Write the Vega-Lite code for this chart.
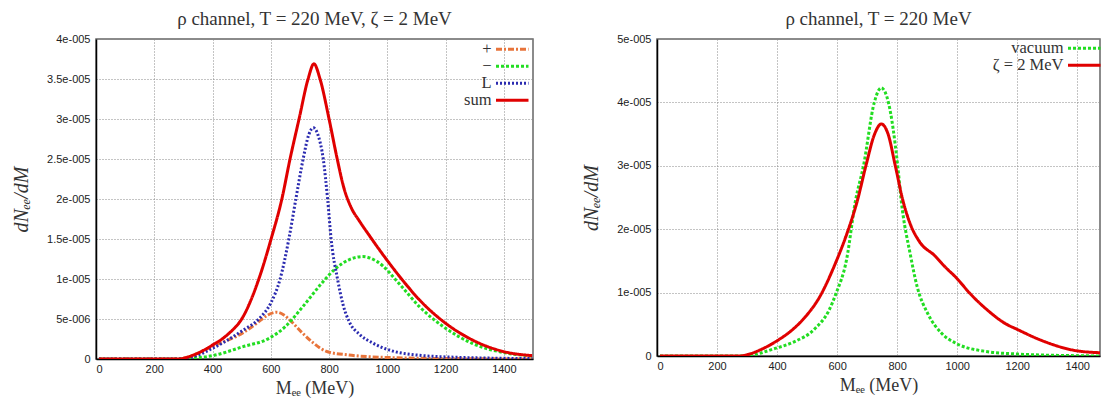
{
  "$schema": "https://vega.github.io/schema/vega-lite/v6.json",
  "background": "white",
  "padding": {"left": 10, "top": 9, "right": 0, "bottom": 0},
  "spacing": 44,
  "config": {
    "view": {"stroke": "#666", "strokeWidth": 1.5},
    "axis": {
      "labelFont": "Liberation Sans", "labelFontSize": 11, "labelColor": "#222",
      "titleFont": "Liberation Serif", "titleFontWeight": "normal", "titleColor": "#333",
      "gridColor": "#888", "gridDash": [1, 2], "gridWidth": 1,
      "domainColor": "#000", "domainWidth": 1.5, "ticks": false, "labelPadding": 6
    },
    "title": {"font": "Liberation Serif", "fontSize": 19, "fontWeight": "normal", "color": "#333"},
    "legend": {
      "title": null, "orient": "none", "symbolType": "M-2.5,0H2.5", "symbolSize": 169,
      "symbolStrokeWidth": 3, "labelAlign": "right", "labelOffset": -29,
      "labelFont": "Liberation Serif", "labelFontSize": 16.5, "labelColor": "#333",
      "rowPadding": 0, "padding": 0
    }
  },
  "datasets": {
    "left": [
      {"s": "+", "M": 10, "v": 0}, {"s": "+", "M": 280, "v": 0}, {"s": "+", "M": 335, "v": 5e-7},
      {"s": "+", "M": 398, "v": 1.55e-6}, {"s": "+", "M": 505, "v": 3.3e-6}, {"s": "+", "M": 553, "v": 4.5e-6},
      {"s": "+", "M": 590, "v": 5.5e-6}, {"s": "+", "M": 620, "v": 5.85e-6}, {"s": "+", "M": 645, "v": 5.5e-6},
      {"s": "+", "M": 670, "v": 4.7e-6}, {"s": "+", "M": 710, "v": 3.2e-6}, {"s": "+", "M": 746, "v": 2e-6},
      {"s": "+", "M": 795, "v": 9e-7}, {"s": "+", "M": 868, "v": 5e-7}, {"s": "+", "M": 989, "v": 2e-7},
      {"s": "+", "M": 1230, "v": 5e-8}, {"s": "+", "M": 1497, "v": 0},
      {"s": "−", "M": 10, "v": 0}, {"s": "−", "M": 280, "v": 0}, {"s": "−", "M": 320, "v": 1e-7},
      {"s": "−", "M": 398, "v": 4e-7}, {"s": "−", "M": 505, "v": 1.55e-6}, {"s": "−", "M": 595, "v": 2.6e-6},
      {"s": "−", "M": 650, "v": 4.05e-6}, {"s": "−", "M": 710, "v": 6.55e-6}, {"s": "−", "M": 771, "v": 9.3e-6},
      {"s": "−", "M": 819, "v": 1.12e-5}, {"s": "−", "M": 868, "v": 1.24e-5}, {"s": "−", "M": 916, "v": 1.28e-5},
      {"s": "−", "M": 964, "v": 1.22e-5}, {"s": "−", "M": 1049, "v": 9.06e-6}, {"s": "−", "M": 1110, "v": 6.55e-6},
      {"s": "−", "M": 1200, "v": 3.84e-6}, {"s": "−", "M": 1291, "v": 1.96e-6}, {"s": "−", "M": 1400, "v": 8e-7},
      {"s": "−", "M": 1497, "v": 3.8e-7},
      {"s": "L", "M": 10, "v": 0}, {"s": "L", "M": 280, "v": 0}, {"s": "L", "M": 335, "v": 3e-7},
      {"s": "L", "M": 398, "v": 1.3e-6}, {"s": "L", "M": 505, "v": 3.6e-6}, {"s": "L", "M": 559, "v": 5e-6},
      {"s": "L", "M": 600, "v": 7e-6}, {"s": "L", "M": 632, "v": 1e-5}, {"s": "L", "M": 662, "v": 1.5e-5},
      {"s": "L", "M": 686, "v": 2e-5}, {"s": "L", "M": 711, "v": 2.5e-5}, {"s": "L", "M": 730, "v": 2.8e-5},
      {"s": "L", "M": 746, "v": 2.89e-5}, {"s": "L", "M": 762, "v": 2.8e-5}, {"s": "L", "M": 780, "v": 2.5e-5},
      {"s": "L", "M": 795, "v": 2e-5}, {"s": "L", "M": 807, "v": 1.5e-5}, {"s": "L", "M": 829, "v": 1e-5},
      {"s": "L", "M": 848, "v": 6.8e-6}, {"s": "L", "M": 870, "v": 4.6e-6}, {"s": "L", "M": 904, "v": 3.1e-6},
      {"s": "L", "M": 950, "v": 2e-6},
      {"s": "L", "M": 1000, "v": 1.2e-6}, {"s": "L", "M": 1100, "v": 5e-7}, {"s": "L", "M": 1250, "v": 2e-7},
      {"s": "L", "M": 1497, "v": 5e-8},
      {"s": "sum", "M": 10, "v": 0}, {"s": "sum", "M": 280, "v": 0}, {"s": "sum", "M": 335, "v": 5e-7},
      {"s": "sum", "M": 398, "v": 1.7e-6}, {"s": "sum", "M": 450, "v": 3e-6}, {"s": "sum", "M": 505, "v": 5.3e-6},
      {"s": "sum", "M": 559, "v": 1e-5}, {"s": "sum", "M": 601, "v": 1.5e-5}, {"s": "sum", "M": 638, "v": 2e-5},
      {"s": "sum", "M": 666, "v": 2.5e-5}, {"s": "sum", "M": 697, "v": 3e-5}, {"s": "sum", "M": 728, "v": 3.5e-5},
      {"s": "sum", "M": 748, "v": 3.69e-5}, {"s": "sum", "M": 769, "v": 3.5e-5}, {"s": "sum", "M": 800, "v": 3e-5},
      {"s": "sum", "M": 828, "v": 2.5e-5}, {"s": "sum", "M": 850, "v": 2.15e-5}, {"s": "sum", "M": 875, "v": 1.9e-5},
      {"s": "sum", "M": 905, "v": 1.72e-5}, {"s": "sum", "M": 935, "v": 1.56e-5}, {"s": "sum", "M": 998, "v": 1.24e-5},
      {"s": "sum", "M": 1049, "v": 1e-5}, {"s": "sum", "M": 1110, "v": 7.4e-6}, {"s": "sum", "M": 1200, "v": 4.47e-6},
      {"s": "sum", "M": 1291, "v": 2.4e-6}, {"s": "sum", "M": 1400, "v": 9.2e-7}, {"s": "sum", "M": 1497, "v": 4.2e-7}
    ],
    "right": [
      {"s": "vacuum", "M": 10, "v": 0}, {"s": "vacuum", "M": 290, "v": 0}, {"s": "vacuum", "M": 394, "v": 1.2e-6},
      {"s": "vacuum", "M": 455, "v": 2.2e-6}, {"s": "vacuum", "M": 526, "v": 4.3e-6}, {"s": "vacuum", "M": 573, "v": 7.2e-6},
      {"s": "vacuum", "M": 596, "v": 9.8e-6}, {"s": "vacuum", "M": 632, "v": 1.53e-5}, {"s": "vacuum", "M": 661, "v": 2.44e-5},
      {"s": "vacuum", "M": 688, "v": 3e-5}, {"s": "vacuum", "M": 724, "v": 4e-5}, {"s": "vacuum", "M": 747, "v": 4.23e-5},
      {"s": "vacuum", "M": 771, "v": 4e-5}, {"s": "vacuum", "M": 802, "v": 3e-5}, {"s": "vacuum", "M": 814, "v": 2.44e-5},
      {"s": "vacuum", "M": 844, "v": 1.6e-5}, {"s": "vacuum", "M": 867, "v": 1.09e-5}, {"s": "vacuum", "M": 902, "v": 6.7e-6},
      {"s": "vacuum", "M": 949, "v": 3.55e-6}, {"s": "vacuum", "M": 996, "v": 2e-6}, {"s": "vacuum", "M": 1102, "v": 6.8e-7},
      {"s": "vacuum", "M": 1200, "v": 3.1e-7}, {"s": "vacuum", "M": 1396, "v": 5e-8}, {"s": "vacuum", "M": 1476, "v": 0},
      {"s": "ζ = 2 MeV", "M": 10, "v": 0}, {"s": "ζ = 2 MeV", "M": 273, "v": 0}, {"s": "ζ = 2 MeV", "M": 300, "v": 2e-7},
      {"s": "ζ = 2 MeV", "M": 350, "v": 1.1e-6}, {"s": "ζ = 2 MeV", "M": 400, "v": 2.4e-6}, {"s": "ζ = 2 MeV", "M": 455, "v": 4.3e-6},
      {"s": "ζ = 2 MeV", "M": 500, "v": 6.5e-6}, {"s": "ζ = 2 MeV", "M": 538, "v": 9e-6},
      {"s": "ζ = 2 MeV", "M": 596, "v": 1.48e-5}, {"s": "ζ = 2 MeV", "M": 632, "v": 1.92e-5}, {"s": "ζ = 2 MeV", "M": 667, "v": 2.44e-5},
      {"s": "ζ = 2 MeV", "M": 696, "v": 3e-5}, {"s": "ζ = 2 MeV", "M": 725, "v": 3.5e-5}, {"s": "ζ = 2 MeV", "M": 747, "v": 3.66e-5},
      {"s": "ζ = 2 MeV", "M": 770, "v": 3.5e-5}, {"s": "ζ = 2 MeV", "M": 794, "v": 3e-5}, {"s": "ζ = 2 MeV", "M": 820, "v": 2.44e-5},
      {"s": "ζ = 2 MeV", "M": 844, "v": 2.08e-5}, {"s": "ζ = 2 MeV", "M": 875, "v": 1.8e-5}, {"s": "ζ = 2 MeV", "M": 926, "v": 1.58e-5},
      {"s": "ζ = 2 MeV", "M": 961, "v": 1.4e-5}, {"s": "ζ = 2 MeV", "M": 996, "v": 1.24e-5}, {"s": "ζ = 2 MeV", "M": 1044, "v": 9.8e-6},
      {"s": "ζ = 2 MeV", "M": 1102, "v": 7.2e-6}, {"s": "ζ = 2 MeV", "M": 1161, "v": 5.1e-6}, {"s": "ζ = 2 MeV", "M": 1200, "v": 4.2e-6},
      {"s": "ζ = 2 MeV", "M": 1279, "v": 2.5e-6}, {"s": "ζ = 2 MeV", "M": 1396, "v": 8.4e-7}, {"s": "ζ = 2 MeV", "M": 1476, "v": 5.2e-7}
    ]
  },
  "resolve": {
    "scale": {"color": "independent", "strokeDash": "independent", "x": "independent", "y": "independent"},
    "legend": {"color": "independent", "strokeDash": "independent"}
  },
  "hconcat": [
    {
      "width": 437, "height": 320,
      "title": {"text": "ρ channel, T = 220 MeV, ζ = 2 MeV", "offset": 4},
      "data": {"name": "left"},
      "mark": {"type": "line", "strokeWidth": 3, "interpolate": "monotone", "clip": true},
      "encoding": {
        "x": {"field": "M", "type": "quantitative", "scale": {"domain": [0, 1500], "nice": false},
          "axis": {"values": [0, 200, 400, 600, 800, 1000, 1200, 1400], "format": "d", "title": "Mₑₑ (MeV)", "titleFontSize": 18, "titlePadding": 5, "labelPadding": 4}},
        "y": {"field": "v", "type": "quantitative", "scale": {"domain": [0, 4e-5], "nice": false},
          "axis": {"values": [0, 5e-6, 1e-5, 1.5e-5, 2e-5, 2.5e-5, 3e-5, 3.5e-5, 4e-5],
            "labelExpr": "datum.value == 0 ? '0' : replace(format(datum.value, '.2~e'), 'e-', 'e-00')",
            "title": "dNₑₑ/dM", "titleFontSize": 20, "titleFontStyle": "italic", "titlePadding": 15}},
        "color": {"field": "s", "type": "nominal",
          "scale": {"domain": ["+", "−", "L", "sum"], "range": ["#e8743b", "#22dd22", "#2b2bb0", "#e00000"]},
          "legend": {"legendX": 408, "legendY": 2}},
        "strokeDash": {"field": "s", "type": "nominal",
          "scale": {"domain": ["+", "−", "L", "sum"], "range": [[6, 2, 2, 2], [3, 2], [2, 2], [1, 0]]},
          "legend": {"legendX": 408, "legendY": 2}}
      }
    },
    {
      "width": 443, "height": 317,
      "title": {"text": "ρ channel, T = 220 MeV", "offset": 4},
      "data": {"name": "right"},
      "mark": {"type": "line", "strokeWidth": 3, "interpolate": "monotone", "clip": true},
      "encoding": {
        "x": {"field": "M", "type": "quantitative", "scale": {"domain": [0, 1476], "nice": false},
          "axis": {"values": [0, 200, 400, 600, 800, 1000, 1200, 1400], "format": "d", "title": "Mₑₑ (MeV)", "titleFontSize": 18, "titlePadding": 5, "labelPadding": 4}},
        "y": {"field": "v", "type": "quantitative", "scale": {"domain": [0, 5e-5], "nice": false},
          "axis": {"values": [0, 1e-5, 2e-5, 3e-5, 4e-5, 5e-5],
            "labelExpr": "datum.value == 0 ? '0' : replace(format(datum.value, '.2~e'), 'e-', 'e-00')",
            "title": "dNₑₑ/dM", "titleFontSize": 20, "titleFontStyle": "italic", "titlePadding": 15}},
        "color": {"field": "s", "type": "nominal",
          "scale": {"domain": ["vacuum", "ζ = 2 MeV"], "range": ["#22dd22", "#e00000"]},
          "legend": {"legendX": 419, "legendY": 1}},
        "strokeDash": {"field": "s", "type": "nominal",
          "scale": {"domain": ["vacuum", "ζ = 2 MeV"], "range": [[3, 2], [1, 0]]},
          "legend": {"legendX": 419, "legendY": 1}}
      }
    }
  ]
}
